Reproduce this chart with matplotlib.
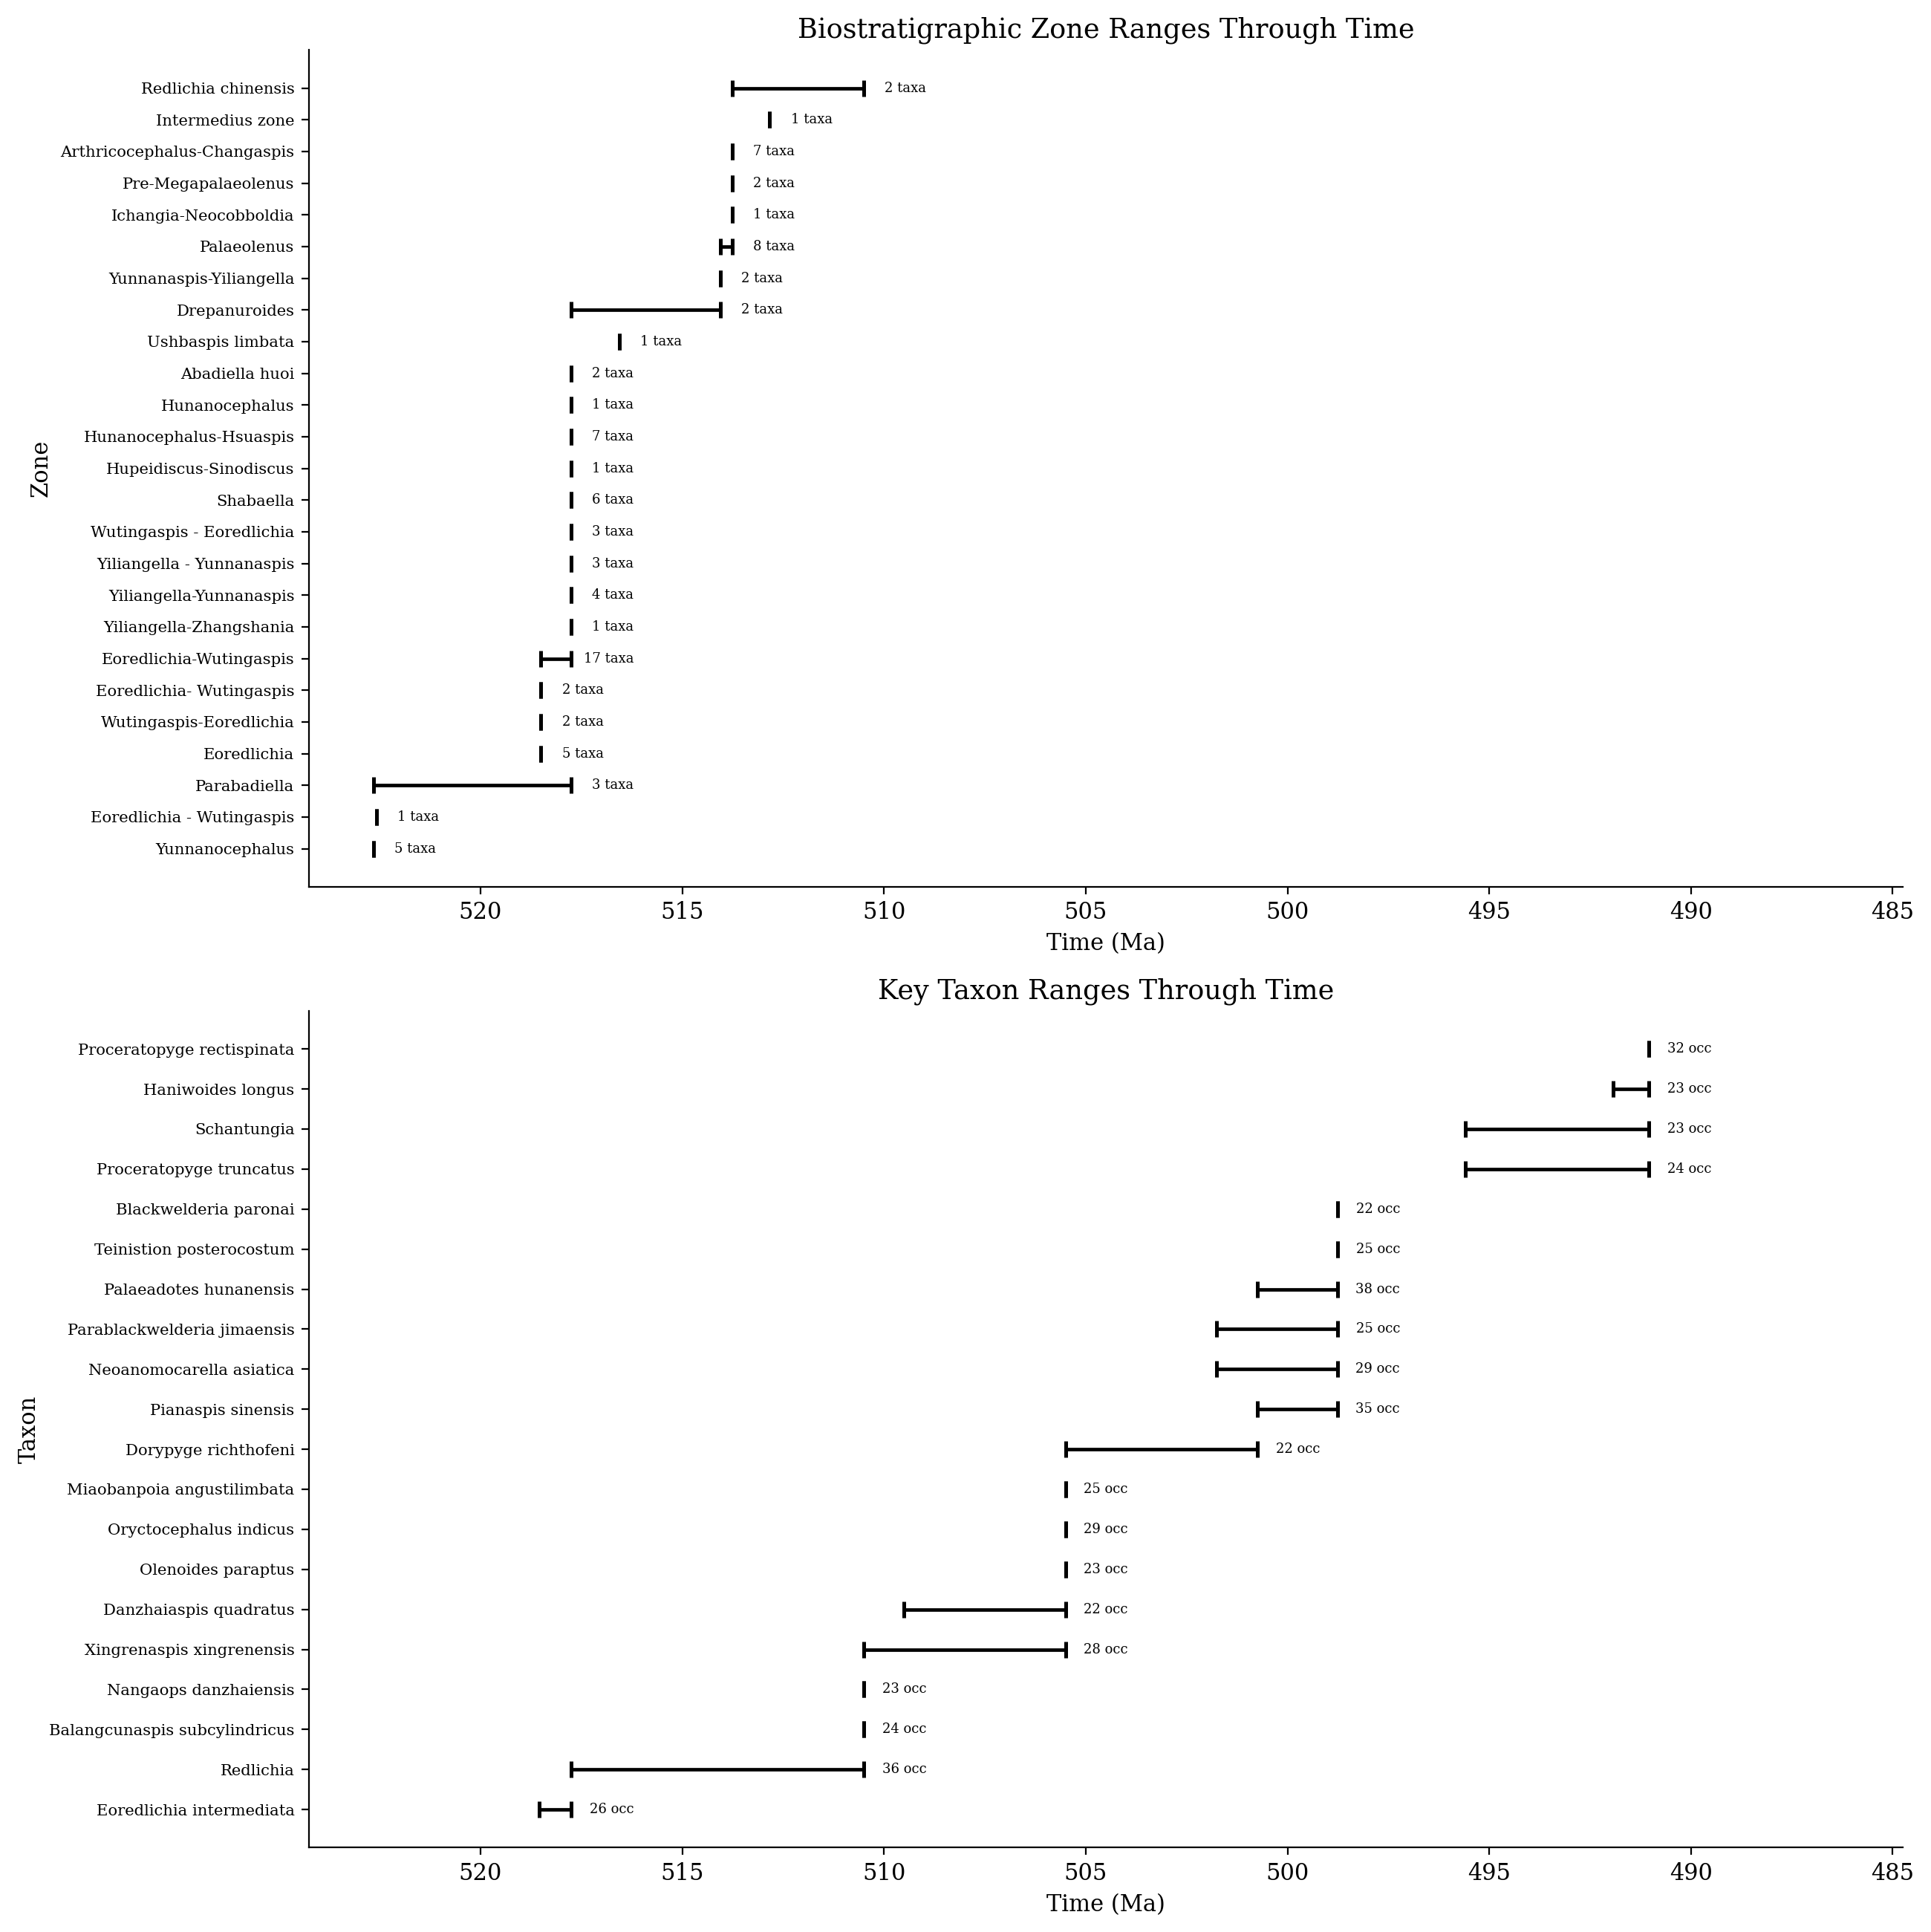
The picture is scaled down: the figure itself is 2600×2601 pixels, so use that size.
import matplotlib
matplotlib.use("Agg")
import matplotlib.pyplot as plt
import numpy as np

plt.rcParams['font.family'] = 'serif'

# zones, listed bottom to top
zone_names = ['Yunnanocephalus', 'Eoredlichia - Wutingaspis', 'Parabadiella', 'Eoredlichia',
              'Wutingaspis-Eoredlichia', 'Eoredlichia- Wutingaspis', 'Eoredlichia-Wutingaspis',
              'Yiliangella-Zhangshania', 'Yiliangella-Yunnanaspis', 'Yiliangella - Yunnanaspis',
              'Wutingaspis - Eoredlichia', 'Shabaella', 'Hupeidiscus-Sinodiscus',
              'Hunanocephalus-Hsuaspis', 'Hunanocephalus', 'Abadiella huoi', 'Ushbaspis limbata',
              'Drepanuroides', 'Yunnanaspis-Yiliangella', 'Palaeolenus', 'Ichangia-Neocobboldia',
              'Pre-Megapalaeolenus', 'Arthricocephalus-Changaspis', 'Intermedius zone',
              'Redlichia chinensis']
zone_old = [522.65, 522.57, 522.65, 518.5, 518.5, 518.5, 518.5, 517.75, 517.75, 517.75,
            517.75, 517.75, 517.75, 517.75, 517.75, 517.75, 516.56, 517.75, 514.05, 514.05,
            513.76, 513.76, 513.76, 512.83, 513.76]
zone_young = [522.65, 522.57, 517.75, 518.5, 518.5, 518.5, 517.75, 517.75, 517.75, 517.75,
              517.75, 517.75, 517.75, 517.75, 517.75, 517.75, 516.56, 514.05, 514.05, 513.76,
              513.76, 513.76, 513.76, 512.83, 510.5]
zone_taxa = [5, 1, 3, 5, 2, 2, 17, 1, 4, 3, 3, 6, 1, 7, 1, 2, 1, 2, 2, 8, 1, 2, 7, 1, 2]

# key taxa, listed bottom to top
taxon_names = ['Eoredlichia intermediata', 'Redlichia', 'Balangcunaspis subcylindricus',
               'Nangaops danzhaiensis', 'Xingrenaspis xingrenensis', 'Danzhaiaspis quadratus',
               'Olenoides paraptus', 'Oryctocephalus indicus', 'Miaobanpoia angustilimbata',
               'Dorypyge richthofeni', 'Pianaspis sinensis', 'Neoanomocarella asiatica',
               'Parablackwelderia jimaensis', 'Palaeadotes hunanensis', 'Teinistion posterocostum',
               'Blackwelderia paronai', 'Proceratopyge truncatus', 'Schantungia',
               'Haniwoides longus', 'Proceratopyge rectispinata']
taxon_old = [518.54, 517.75, 510.5, 510.5, 510.5, 509.5, 505.5, 505.5, 505.5, 505.5,
             500.74, 501.75, 501.75, 500.74, 498.76, 498.76, 495.59, 495.59, 491.93, 491.04]
taxon_young = [517.75, 510.5, 510.5, 510.5, 505.5, 505.5, 505.5, 505.5, 505.5, 500.74,
               498.76, 498.76, 498.76, 498.76, 498.76, 498.76, 491.04, 491.04, 491.04, 491.04]
taxon_occ = [26, 36, 24, 23, 28, 22, 23, 29, 25, 22, 35, 29, 25, 38, 25, 22, 24, 23, 23, 32]


def range_panel(ax, names, old, young, counts, unit, title, ylabel):
    old = np.array(old)
    young = np.array(young)
    y = np.arange(len(names))
    mid = (old + young) / 2
    half = (old - young) / 2
    ax.errorbar(mid, y, xerr=half, fmt='none', ecolor='black', elinewidth=1.7,
                capsize=4, capthick=1.8)
    # count labels, right-aligned a little past the young end
    for i in range(len(names)):
        ax.text(young[i] - 1.55, y[i], f'{counts[i]} {unit}', va='center', ha='right',
                fontsize=6.5)
    ax.set_yticks(y)
    ax.set_yticklabels(names, fontsize=7.6)
    ax.set_xlim(524.25, 484.75)
    ax.set_xticks(np.arange(520, 484, -5))
    ax.tick_params(axis='x', labelsize=11)
    ax.set_xlabel('Time (Ma)', fontsize=11)
    ax.set_ylabel(ylabel, fontsize=11)
    ax.set_title(title, fontsize=13.2)
    ax.spines['top'].set_visible(False)
    ax.spines['right'].set_visible(False)


fig, (ax1, ax2) = plt.subplots(2, 1, figsize=(13, 13.005))
fig.subplots_adjust(left=0.16, right=0.9854, top=0.9741, bottom=0.0437, hspace=0.1485)

range_panel(ax1, zone_names, zone_old, zone_young, zone_taxa, 'taxa',
            'Biostratigraphic Zone Ranges Through Time', 'Zone')
range_panel(ax2, taxon_names, taxon_old, taxon_young, taxon_occ, 'occ',
            'Key Taxon Ranges Through Time', 'Taxon')

plt.savefig('out.png', dpi=200)
